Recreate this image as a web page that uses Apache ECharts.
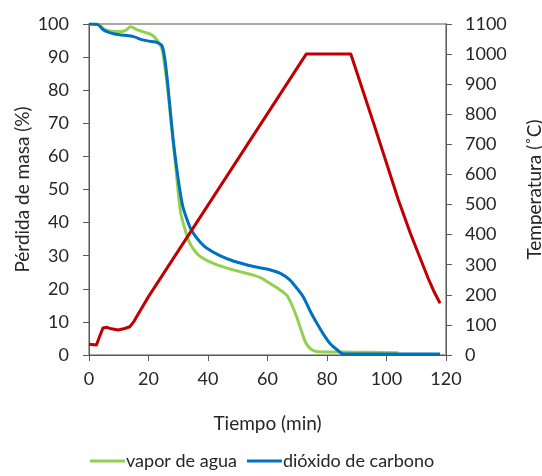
<!DOCTYPE html>
<html>
<head>
<meta charset="utf-8">
<style>
  html, body { margin: 0; padding: 0; background: #fff; }
  #chart { width: 542px; height: 476px; }
</style>
<script src="https://cdn.jsdelivr.net/npm/echarts@6/dist/echarts.min.js"></script>
</head>
<body>
<div id="chart"></div>
<script>
// Mass loss (%) against time (min) for each atmosphere
const vaporDeAgua = [
  [0, 100], [3, 100], [5, 98.5], [7, 97.9], [11, 97.7], [12.5, 98.2], [14, 99.2],
  [16, 98.3], [18, 97.7], [21, 96.8], [23, 95], [24.5, 92.5], [25.5, 87], [26.5, 80],
  [27.6, 70], [28.8, 60], [29.9, 50], [30.8, 43], [32, 38.8], [33.5, 34.5],
  [35.5, 31.5], [37.5, 29.7], [41.8, 27.7], [48.5, 25.7], [55, 24.2], [58, 23.2],
  [61, 21.5], [64, 19.8], [66.5, 18], [68.5, 14.5], [70, 11], [71.5, 7], [73, 3.5],
  [75, 1.5], [77, 1], [85, 0.9], [95, 0.8], [104, 0.7]
];
const dioxidoDeCarbono = [
  [0, 100], [3, 99.8], [4.5, 98.5], [6, 97.7], [9, 96.9], [12, 96.6], [15, 96.2],
  [18, 95.2], [21, 94.7], [23, 94.4], [24.5, 93.5], [25.3, 90.5], [26.1, 85],
  [27.2, 75], [28.3, 65], [29.4, 57], [30.5, 50], [31.5, 45], [32.8, 41.3],
  [34, 38.5], [35.5, 36.2], [37.5, 34], [39.5, 32.3], [44, 30], [48.5, 28.4],
  [55, 26.8], [61, 25.7], [64.5, 24.6], [67.5, 22.7], [70, 20], [72, 17.6],
  [74.5, 13], [76.6, 9.6], [79, 6], [81, 3.5], [83.5, 1.5], [85.6, 0.3], [95, 0.3],
  [105, 0.3], [118, 0.3]
];
// Furnace temperature (°C) against time (min)
const temperatura = [
  [0, 36], [2.5, 33], [3.5, 60], [4.7, 90], [6, 92], [7.5, 87], [9.8, 83], [12, 88],
  [13.7, 94], [15, 110], [16, 127], [20, 194], [73, 1000], [88, 1000], [96, 760],
  [104, 515], [108, 405], [111, 330], [114, 255], [116, 210], [118, 172]
];

const seriesNames = ['vapor de agua', 'dióxido de carbono'];
const axisTitles = {
  x: 'Tiempo (min)',
  left: 'Pérdida de masa (%)',
  right: 'Temperatura (˚C)'
};

const FONT = 'Lato, "Open Sans", sans-serif';
const TEXT = '#262626';
const AXIS = '#595959';

const chart = echarts.init(document.getElementById('chart'), null, { renderer: 'canvas' });

const plainNumber = v => String(v);

chart.setOption({
  animation: false,
  textStyle: { fontFamily: FONT, color: TEXT },
  grid: {
    left: 89, right: 96, top: 24, bottom: 121,
    outerBoundsMode: 'none',
    containLabel: false,
    show: true, borderColor: '#8c8c8c', borderWidth: 1.5, backgroundColor: 'transparent'
  },
  legend: {
    data: seriesNames,
    bottom: 1,
    left: 85,
    icon: 'rect',
    itemWidth: 35,
    itemHeight: 3,
    itemGap: 10,
    textStyle: { fontFamily: FONT, fontSize: 18, color: TEXT, padding: [0, 0, 0, -4] }
  },
  xAxis: {
    type: 'value',
    min: 0, max: 120, interval: 20,
    name: axisTitles.x,
    nameLocation: 'middle',
    nameGap: 59,
    nameMoveOverlap: false,
    nameTextStyle: { fontFamily: FONT, fontSize: 19, color: TEXT },
    axisLine: { show: true, onZero: false, lineStyle: { color: AXIS, width: 1 } },
    axisTick: { show: true, length: 6, lineStyle: { color: AXIS } },
    axisLabel: { fontFamily: FONT, fontSize: 18, color: TEXT, margin: 15, formatter: plainNumber },
    splitLine: { show: false }
  },
  yAxis: [
    {
      type: 'value',
      min: 0, max: 100, interval: 10,
      name: axisTitles.left,
      nameLocation: 'middle',
      nameGap: 57,
      nameRotate: 90,
      nameMoveOverlap: false,
      nameTextStyle: { fontFamily: FONT, fontSize: 19, color: TEXT },
      axisLine: { show: true, lineStyle: { color: AXIS, width: 1 } },
      axisTick: { show: true, length: 6, lineStyle: { color: AXIS } },
      axisLabel: { fontFamily: FONT, fontSize: 18, color: TEXT, margin: 20, formatter: plainNumber },
      splitLine: { show: false }
    },
    {
      type: 'value',
      position: 'right',
      min: 0, max: 1100, interval: 100,
      name: axisTitles.right,
      nameLocation: 'middle',
      nameGap: 79,
      nameRotate: 90,
      nameMoveOverlap: false,
      nameTextStyle: { fontFamily: FONT, fontSize: 19, color: TEXT },
      axisLine: { show: true, lineStyle: { color: AXIS, width: 1 } },
      axisTick: { show: true, length: 6, lineStyle: { color: AXIS } },
      axisLabel: { fontFamily: FONT, fontSize: 18, color: TEXT, margin: 19, formatter: plainNumber },
      splitLine: { show: false }
    }
  ],
  series: [
    {
      name: seriesNames[0],
      type: 'line',
      yAxisIndex: 0,
      data: vaporDeAgua,
      showSymbol: false,
      smooth: 0.3,
      color: '#92D050',
      lineStyle: { width: 3, color: '#92D050' },
      z: 2
    },
    {
      name: seriesNames[1],
      type: 'line',
      yAxisIndex: 0,
      data: dioxidoDeCarbono,
      showSymbol: false,
      smooth: 0.3,
      color: '#0070C0',
      lineStyle: { width: 3, color: '#0070C0' },
      z: 3
    },
    {
      name: 'temperatura',
      type: 'line',
      yAxisIndex: 1,
      data: temperatura,
      showSymbol: false,
      smooth: false,
      color: '#C00000',
      lineStyle: { width: 3, color: '#C00000', join: 'round' },
      z: 4
    }
  ]
});
</script>
</body>
</html>
